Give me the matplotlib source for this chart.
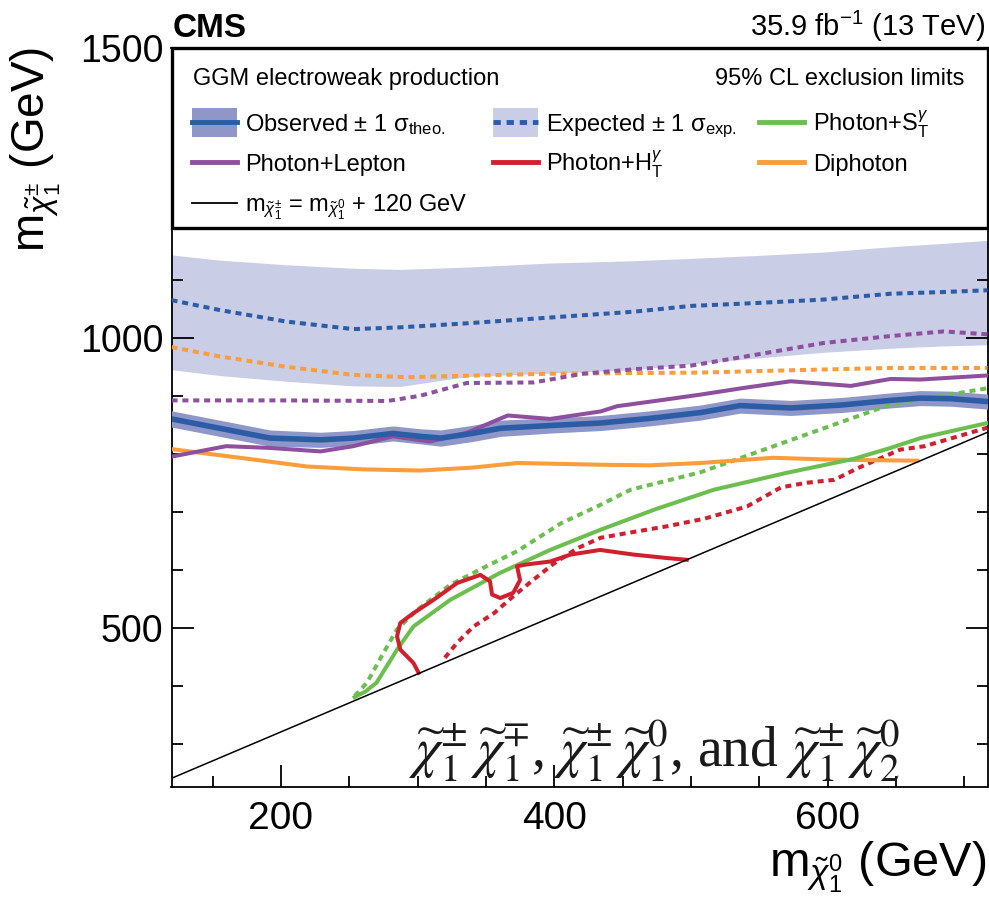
import matplotlib.pyplot as plt
from matplotlib.patches import Rectangle
from matplotlib.ticker import MultipleLocator
import numpy as np

plt.rcParams['font.family'] = ['Liberation Sans', 'DejaVu Sans']
plt.rcParams['mathtext.fontset'] = 'custom'
plt.rcParams['mathtext.rm'] = 'Liberation Sans'
plt.rcParams['mathtext.it'] = 'Liberation Sans:italic'
plt.rcParams['mathtext.bf'] = 'Liberation Sans:bold'

# --- combined expected limit (+- 1 sigma_exp) ---
exp_x = [120, 155, 204, 253, 287, 336, 397, 458, 500, 548, 597, 646, 685, 717]
exp_y = [1065, 1048, 1028, 1015, 1018, 1025, 1035, 1045, 1055, 1060, 1066, 1076, 1079, 1082]
exp_lo = [945, 935, 925, 917, 916, 933, 939, 945, 955, 965, 975, 982, 986, 988]
exp_hi = [1143, 1134, 1126, 1120, 1118, 1122, 1129, 1133, 1137, 1142, 1148, 1157, 1163, 1168]

# --- combined observed limit (+- 1 sigma_theo) ---
obs_x = [120, 155, 192, 229, 253, 282, 302, 317, 340, 361, 400, 434, 470, 507, 536, 573, 610, 646, 668, 690, 717]
obs_y = [860, 844, 827, 824, 827, 835, 830, 827, 835, 844, 849, 853, 861, 871, 883, 879, 884, 892, 896, 895, 890]
obs_err = [14, 14, 14, 13, 13, 13, 13, 14, 14, 14, 13, 13, 13, 13, 13, 13, 13, 13, 13, 13, 13]

# --- photon + lepton ---
lep_obs_x = [120, 160, 192, 229, 253, 282, 309, 336, 366, 397, 434, 446, 480, 507, 540, 573, 595, 617, 646, 668, 717]
lep_obs_y = [795, 813, 810, 804, 813, 830, 821, 836, 866, 860, 873, 882, 893, 902, 914, 925, 921, 917, 929, 928, 935]
lep_exp_x = [120, 200, 278, 302, 336, 385, 421, 460, 500, 548, 597, 646, 685, 717]
lep_exp_y = [892, 892, 891, 900, 922, 923, 938, 946, 952, 971, 991, 1003, 1011, 1006]

# --- diphoton ---
dipho_obs_x = [120, 170, 219, 260, 302, 340, 373, 434, 470, 507, 560, 600, 629, 665.6]
dipho_obs_y = [808, 793, 778, 773, 771, 776, 784, 781, 780, 784, 793, 790, 789, 788]
dipho_exp_x = [120, 155, 204, 253, 292, 397, 507, 573, 646, 717]
dipho_exp_y = [984, 968, 950, 936, 932, 938, 940, 944, 948, 948]

# --- photon + S_T ---
st_obs_x = [254, 262, 270, 285, 297, 324, 360, 397, 434, 475, 517, 570, 619, 646, 668, 717]
st_obs_y = [380, 390, 405, 462, 502, 548, 594, 634, 669, 705, 738, 767, 791, 810, 827, 853]
st_exp_x = [254, 263, 275, 285, 300, 324, 348, 373, 405, 434, 456, 507, 576, 646, 717]
st_exp_y = [382, 405, 456, 497, 531, 574, 603, 632, 680, 712, 738, 768, 826, 885, 913]

# --- photon + H_T (observed contour is not single valued in x) ---
ht_obs_x = [300.8, 297, 287.4, 285, 287.4, 297, 311.8, 329, 346, 353, 354.5, 360.5, 370, 375, 372.8,
            380, 397, 412, 433.6, 458, 482.6, 497]
ht_obs_y = [422, 439, 462, 485, 508, 525, 548, 577, 591, 580, 557, 551, 560, 582, 606,
            609, 614, 626, 634, 626, 620, 617]
ht_exp_x = [320, 329, 341, 356, 370, 385, 400, 417, 434, 458, 483, 510, 541, 566, 585, 605, 622, 653, 671, 717]
ht_exp_y = [448, 474, 502, 525, 554, 583, 611, 637, 655, 665, 675, 688, 709, 742, 750, 755, 775, 807, 813, 845]

# kinematic boundary m(chi1+-) = m(chi1^0) + 120 GeV
mass_split = 120
diag_x = [120, 717]

C_BLUE = '#2b5ca5'
C_OBS_BAND = '#8e97c8'
C_EXP_BAND = '#c9cde6'
C_PURPLE = '#8f4f9f'
C_RED = '#d21f2e'
C_GREEN = '#6cbf4f'
C_ORANGE = '#fb9d3b'
DOT = (0, (1.5, 1.2))
LW = 2.9

fig = plt.figure(figsize=(9.89, 9.01), dpi=100)
AX_L, AX_W, AX_B, AX_H = 171.5, 816.0, 787.0, 739.0
ax = fig.add_axes([AX_L / 989, (901 - AX_B) / 901, AX_W / 989, AX_H / 901])

ax.fill_between(exp_x, exp_lo, exp_hi, color=C_EXP_BAND, lw=0, zorder=1)
obs_arr = np.array(obs_y, dtype=float)
err_arr = np.array(obs_err, dtype=float)
ax.fill_between(obs_x, obs_arr - err_arr, obs_arr + err_arr, color=C_OBS_BAND, lw=0, zorder=3)

ax.plot(exp_x, exp_y, color=C_BLUE, ls=DOT, lw=LW, zorder=4)
ax.plot(dipho_exp_x, dipho_exp_y, color=C_ORANGE, ls=DOT, lw=LW, zorder=4)
ax.plot(lep_exp_x, lep_exp_y, color=C_PURPLE, ls=DOT, lw=LW, zorder=4)
ax.plot(st_exp_x, st_exp_y, color=C_GREEN, ls=DOT, lw=LW, zorder=4)
ax.plot(ht_exp_x, ht_exp_y, color=C_RED, ls=DOT, lw=LW, zorder=4)

ax.plot(dipho_obs_x, dipho_obs_y, color=C_ORANGE, lw=LW, zorder=5, solid_joinstyle='round')
ax.plot(lep_obs_x, lep_obs_y, color=C_PURPLE, lw=LW, zorder=5, solid_joinstyle='round')
ax.plot(st_obs_x, st_obs_y, color=C_GREEN, lw=LW, zorder=5, solid_joinstyle='round')
ax.plot(ht_obs_x, ht_obs_y, color=C_RED, lw=LW, zorder=5, solid_joinstyle='round')
ax.plot(obs_x, obs_y, color=C_BLUE, lw=4.0, zorder=6, solid_joinstyle='round')

ax.plot(diag_x, [x + mass_split for x in diag_x], color='black', lw=1.1, zorder=7)

ax.set_xlim(120, 717)
ax.set_ylim(225, 1500)
ax.set_xticks([200, 400, 600])
ax.set_yticks([500, 1000, 1500])
ax.xaxis.set_minor_locator(MultipleLocator(50))
ax.yaxis.set_minor_locator(MultipleLocator(100))
ax.tick_params(which='both', direction='in', top=True, right=True, width=1.3)
ax.tick_params(which='major', length=16)
ax.tick_params(which='minor', length=8)
ax.tick_params(axis='x', labelsize=28, pad=10)
ax.tick_params(axis='y', labelsize=27, pad=6)
for sp in ax.spines.values():
    sp.set_linewidth(1.3)


def fx(px):
    return (px - AX_L) / AX_W


def fy(py):
    return (AX_B - py) / AX_H


# legend box across the top of the frame
ax.add_patch(Rectangle((0, fy(228)), 1, 1 - fy(228), transform=ax.transAxes,
                       fc='white', ec='black', lw=2.4, zorder=10, clip_on=False))
ax.text(fx(193), fy(85), 'GGM electroweak production', transform=ax.transAxes,
        fontsize=17, va='baseline', ha='left', zorder=12)
ax.text(fx(964), fy(85), '95% CL exclusion limits', transform=ax.transAxes,
        fontsize=17, va='baseline', ha='right', zorder=12)

col_h = [192, 493, 759]
col_t = [245, 546, 813]
row_y = [122, 162, 203]
entries = [
    (0, 0, 'obs', 'Observed ± 1 σ$_{\\mathrm{theo.}}$'),
    (1, 0, 'exp', 'Expected ± 1 σ$_{\\mathrm{exp.}}$'),
    (2, 0, C_GREEN, 'Photon+$\\mathrm{S}_{\\mathrm{T}}^{\\gamma}$'),
    (0, 1, C_PURPLE, 'Photon+Lepton'),
    (1, 1, C_RED, 'Photon+$\\mathrm{H}_{\\mathrm{T}}^{\\gamma}$'),
    (2, 1, C_ORANGE, 'Diphoton'),
    (0, 2, 'diag', 'm$_{\\tilde{\\chi}_{1}^{\\pm}}$ = m$_{\\tilde{\\chi}_{1}^{0}}$ + 120 GeV'),
]
for c, r, kind, label in entries:
    x0, x1, yc = fx(col_h[c]), fx(col_h[c] + 45), fy(row_y[r])
    if kind in ('obs', 'exp'):
        band = C_OBS_BAND if kind == 'obs' else C_EXP_BAND
        h = 29 / AX_H
        ax.add_patch(Rectangle((x0, yc - h / 2), x1 - x0, h, transform=ax.transAxes,
                               fc=band, ec='none', zorder=11, clip_on=False))
        ax.plot([x0, x1], [yc, yc], transform=ax.transAxes, color=C_BLUE, lw=LW + 0.6,
                ls='-' if kind == 'obs' else DOT, zorder=12, clip_on=False)
    elif kind == 'diag':
        ax.plot([x0, x1], [yc, yc], transform=ax.transAxes, color='black', lw=1.3,
                zorder=12, clip_on=False)
    else:
        ax.plot([x0, x1], [yc, yc], transform=ax.transAxes, color=kind, lw=LW + 0.6,
                zorder=12, clip_on=False)
    ax.text(fx(col_t[c]), fy(row_y[r] + 9), label, transform=ax.transAxes,
            fontsize=17, va='baseline', ha='left', zorder=12)

# process label
ax.text(fx(408), fy(767),
        r'$\widetilde{\chi}_1^{\pm}\,\widetilde{\chi}_1^{\mp}$, '
        r'$\widetilde{\chi}_1^{\pm}\,\widetilde{\chi}_1^{0}$, and '
        r'$\widetilde{\chi}_1^{\pm}\,\widetilde{\chi}_2^{0}$',
        transform=ax.transAxes, fontsize=40, family='Liberation Serif',
        math_fontfamily='stix', color='#1a1a1a', va='baseline', ha='left', zorder=8)

fig.text(173 / 989, 1 - 37 / 901, 'CMS', fontsize=24, fontweight='bold',
         ha='left', va='baseline')
fig.text(985 / 989, 1 - 36 / 901, '35.9 fb$^{-1}$ (13 TeV)', fontsize=21,
         ha='right', va='baseline')

fig.text(986 / 989, 1 - 876 / 901, 'm$_{\\tilde{\\chi}_{1}^{0}}$ (GeV)', fontsize=35,
         ha='right', va='baseline')
fig.text(36 / 989, 1 - 47 / 901, 'm$_{\\tilde{\\chi}_{1}^{\\pm}}$ (GeV)', fontsize=33,
         rotation=90, ha='center', va='top')

fig.savefig('out.png', dpi=100)
